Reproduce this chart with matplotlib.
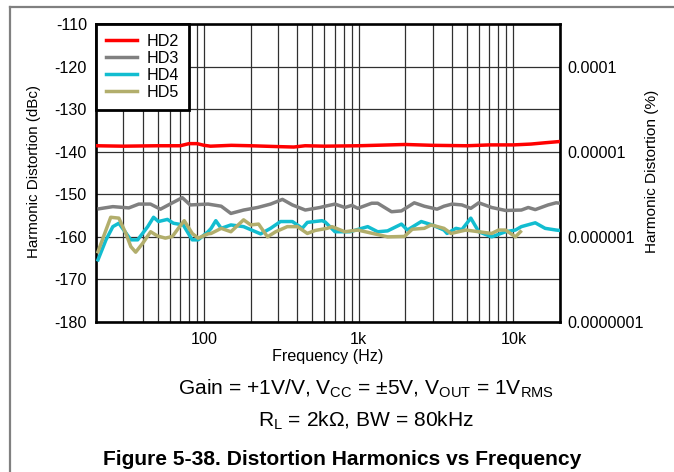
import matplotlib
matplotlib.use('Agg')
import matplotlib.pyplot as plt
from matplotlib.lines import Line2D
from matplotlib.ticker import FixedLocator, NullFormatter

plt.rcParams['font.family'] = ['Liberation Sans', 'DejaVu Sans']
plt.rcParams['mathtext.fontset'] = 'custom'
plt.rcParams['mathtext.rm'] = 'Liberation Sans'
plt.rcParams['mathtext.it'] = 'Liberation Sans:italic'

# ---------------- data (Hz, dBc) ----------------
hd2_f = [20, 30, 50, 70, 80, 90, 100, 110, 150, 200, 300, 380, 450, 600,
         1000, 2000, 3000, 5000, 7000, 10000, 13000, 16000, 20000]
hd2_db = [-138.6, -138.7, -138.6, -138.6, -138.1, -138.1, -138.5, -138.7,
          -138.5, -138.6, -138.8, -138.9, -138.6, -138.7, -138.6, -138.3,
          -138.5, -138.6, -138.4, -138.4, -138.2, -137.9, -137.6]

hd3_f = [21, 25.7, 32.6, 37.8, 45, 52.2, 62.4, 72.3, 81.3, 106, 129, 149,
         180, 222, 269, 321, 372, 451, 562, 606, 702, 813, 902, 986, 1212,
         1325, 1629, 1888, 2285, 2651, 3208, 3556, 4008, 4643, 5300, 5970,
         7230, 8895, 11250, 12470, 13840, 16760, 18870, 20000]
hd3_db = [-153.4, -152.9, -153.2, -152.3, -152.3, -153.5, -152.0, -150.8,
          -152.5, -152.3, -152.8, -154.5, -153.7, -153.1, -152.3, -151.2,
          -152.5, -153.7, -153.1, -152.8, -152.3, -153.1, -152.6, -153.3,
          -152.1, -152.1, -154.1, -153.9, -152.0, -152.8, -153.5, -152.8,
          -152.3, -152.5, -153.3, -152.0, -153.1, -153.8, -153.7, -153.1,
          -153.6, -152.5, -152.0, -152.1]

hd4_f = [20.6, 23.2, 25.7, 28.1, 33.6, 37.2, 43.2, 47.1, 50.7, 57.9, 63.3,
         73.3, 83.8, 91.5, 106, 111, 119, 129, 149, 180, 232, 269, 312, 372,
         431, 465, 579, 606, 702, 875, 1143, 1325, 1535, 1888, 2062, 2535,
         2980, 3556, 3721, 4250, 4643, 5300, 5970, 7230, 8895, 10300, 11250,
         13840, 16030, 18870, 20000]
hd4_db = [-165.4, -160.7, -157.6, -156.8, -160.7, -160.7, -157.6, -155.4,
          -156.4, -155.9, -156.8, -157.2, -160.7, -160.7, -158.8, -158.0,
          -156.2, -158.0, -157.2, -157.6, -159.3, -158.0, -156.4, -156.4,
          -158.0, -156.6, -156.2, -156.5, -158.8, -158.8, -157.6, -158.8,
          -158.6, -157.0, -158.4, -156.4, -157.2, -158.4, -159.2, -158.0,
          -158.3, -155.6, -158.8, -160.0, -158.8, -158.4, -157.6, -156.7,
          -158.0, -158.4, -158.5]

hd5_f = [20.6, 23.2, 24.9, 28.1, 31.2, 33.6, 36.1, 40.1, 45.1, 50, 56.2,
         62.4, 68.1, 74.4, 83.8, 91.5, 106, 111, 129, 149, 180, 200, 225, 257,
         290, 345, 401, 465, 522, 624, 671, 813, 986, 1267, 1535, 1973, 2219,
         2651, 2937, 3556, 3948, 4925, 5970, 7230, 8015, 8895, 10300, 11100]
hd5_db = [-163.5, -158.4, -155.4, -155.6, -159.2, -162.3, -163.6, -161.5,
          -158.8, -159.8, -160.3, -159.9, -158.0, -156.2, -159.2, -160.3,
          -159.3, -159.2, -158.0, -158.8, -156.0, -157.2, -157.0, -160.0,
          -158.8, -157.6, -157.6, -159.2, -158.5, -158.0, -157.6, -158.8,
          -158.4, -159.3, -160.0, -159.9, -158.2, -158.0, -157.2, -158.0,
          -159.2, -158.4, -158.8, -159.2, -158.4, -158.4, -160.0, -158.8]

series_names = ['HD2', 'HD3', 'HD4', 'HD5']
series_colors = ['#ff0000', '#808080', '#12bdd0', '#b2ae6c']

y_ticks = [-180, -170, -160, -150, -140, -130, -120, -110]
x_major = [100, 1000, 10000]
x_major_labels = ['100', '1k', '10k']
pct_ticks = [-120, -140, -160, -180]
pct_labels = ['0.0001', '0.00001', '0.000001', '0.0000001']

# ---------------- figure ----------------
W, H = 674, 472
FS = 11.6
fig = plt.figure(figsize=(W / 100, H / 100), dpi=100)
ax = fig.add_axes([96 / W, 1 - 322 / H, 464 / W, 298 / H])

ax.set_xscale('log')
ax.set_xlim(20, 20000)
ax.set_ylim(-180, -110)

data = [(hd2_f, hd2_db), (hd3_f, hd3_db), (hd4_f, hd4_db), (hd5_f, hd5_db)]
handles = []
for (f, d), name, col in zip(data, series_names, series_colors):
    h, = ax.plot(f, d, color=col, lw=2.5, label=name, solid_joinstyle='round',
                 zorder=3)
    handles.append(h)

ax.xaxis.set_major_locator(FixedLocator(x_major))
ax.set_xticklabels(x_major_labels)
minor = [m * 10 ** e for e in range(1, 5) for m in range(2, 10)
         if 20 <= m * 10 ** e <= 20000]
ax.xaxis.set_minor_locator(FixedLocator(minor))
ax.xaxis.set_minor_formatter(NullFormatter())
ax.set_yticks(y_ticks)
ax.set_yticklabels([str(v) for v in y_ticks])

ax.grid(True, which='both', axis='x', color='#303030', lw=0.9, zorder=1)
ax.grid(True, which='major', axis='y', color='#303030', lw=0.9, zorder=1)
ax.tick_params(axis='both', which='both', length=0, labelsize=FS,
               colors='black')
ax.tick_params(axis='y', pad=6.5)
ax.tick_params(axis='x', pad=7.5)
for s in ax.spines.values():
    s.set_linewidth(1.9)
    s.set_color('black')

ax2 = ax.twinx()
ax2.set_ylim(-180, -110)
ax2.set_yticks(pct_ticks)
ax2.set_yticklabels(pct_labels)
ax2.tick_params(axis='y', length=0, labelsize=FS, pad=5)
for s in ax2.spines.values():
    s.set_visible(False)

leg = ax.legend(handles=handles, loc='upper left', bbox_to_anchor=(0, 1),
                borderaxespad=0, fancybox=False, framealpha=1,
                edgecolor='black', fontsize=FS, handlelength=1.9,
                handletextpad=0.6, labelspacing=0.12, borderpad=0.62)
leg.get_frame().set_linewidth(2)
leg.set_zorder(5)

ax.set_xlabel('Frequency (Hz)', fontsize=FS, labelpad=1.5)
fig.text(34 / W, 1 - 171 / H, 'Harmonic Distortion (dBc)', rotation=90,
         ha='center', va='center', fontsize=10.9)
fig.text(652 / W, 1 - 171 / H, 'Harmonic Distortion (%)', rotation=90,
         ha='center', va='center', fontsize=11.1)

fig.text(366 / W, 1 - 395 / H,
         r'Gain = +1V/V, V$_\mathrm{CC}$ = ±5V, V$_\mathrm{OUT}$ = 1V$_\mathrm{RMS}$',
         ha='center', va='baseline', fontsize=15.1)
fig.text(366 / W, 1 - 427 / H, r'R$_\mathrm{L}$ = 2kΩ, BW = 80kHz',
         ha='center', va='baseline', fontsize=15.1)
fig.text(342 / W, 1 - 465 / H,
         'Figure 5-38. Distortion Harmonics vs Frequency',
         ha='center', va='baseline', fontsize=15.1, fontweight='bold')

fig.add_artist(Line2D([10 / W, 1], [1 - 7 / H, 1 - 7 / H],
                      transform=fig.transFigure, color='#808080', lw=1.6))
fig.add_artist(Line2D([10 / W, 10 / W], [0, 1 - 7 / H],
                      transform=fig.transFigure, color='#808080', lw=1.6))

fig.savefig('out.png', dpi=100)
